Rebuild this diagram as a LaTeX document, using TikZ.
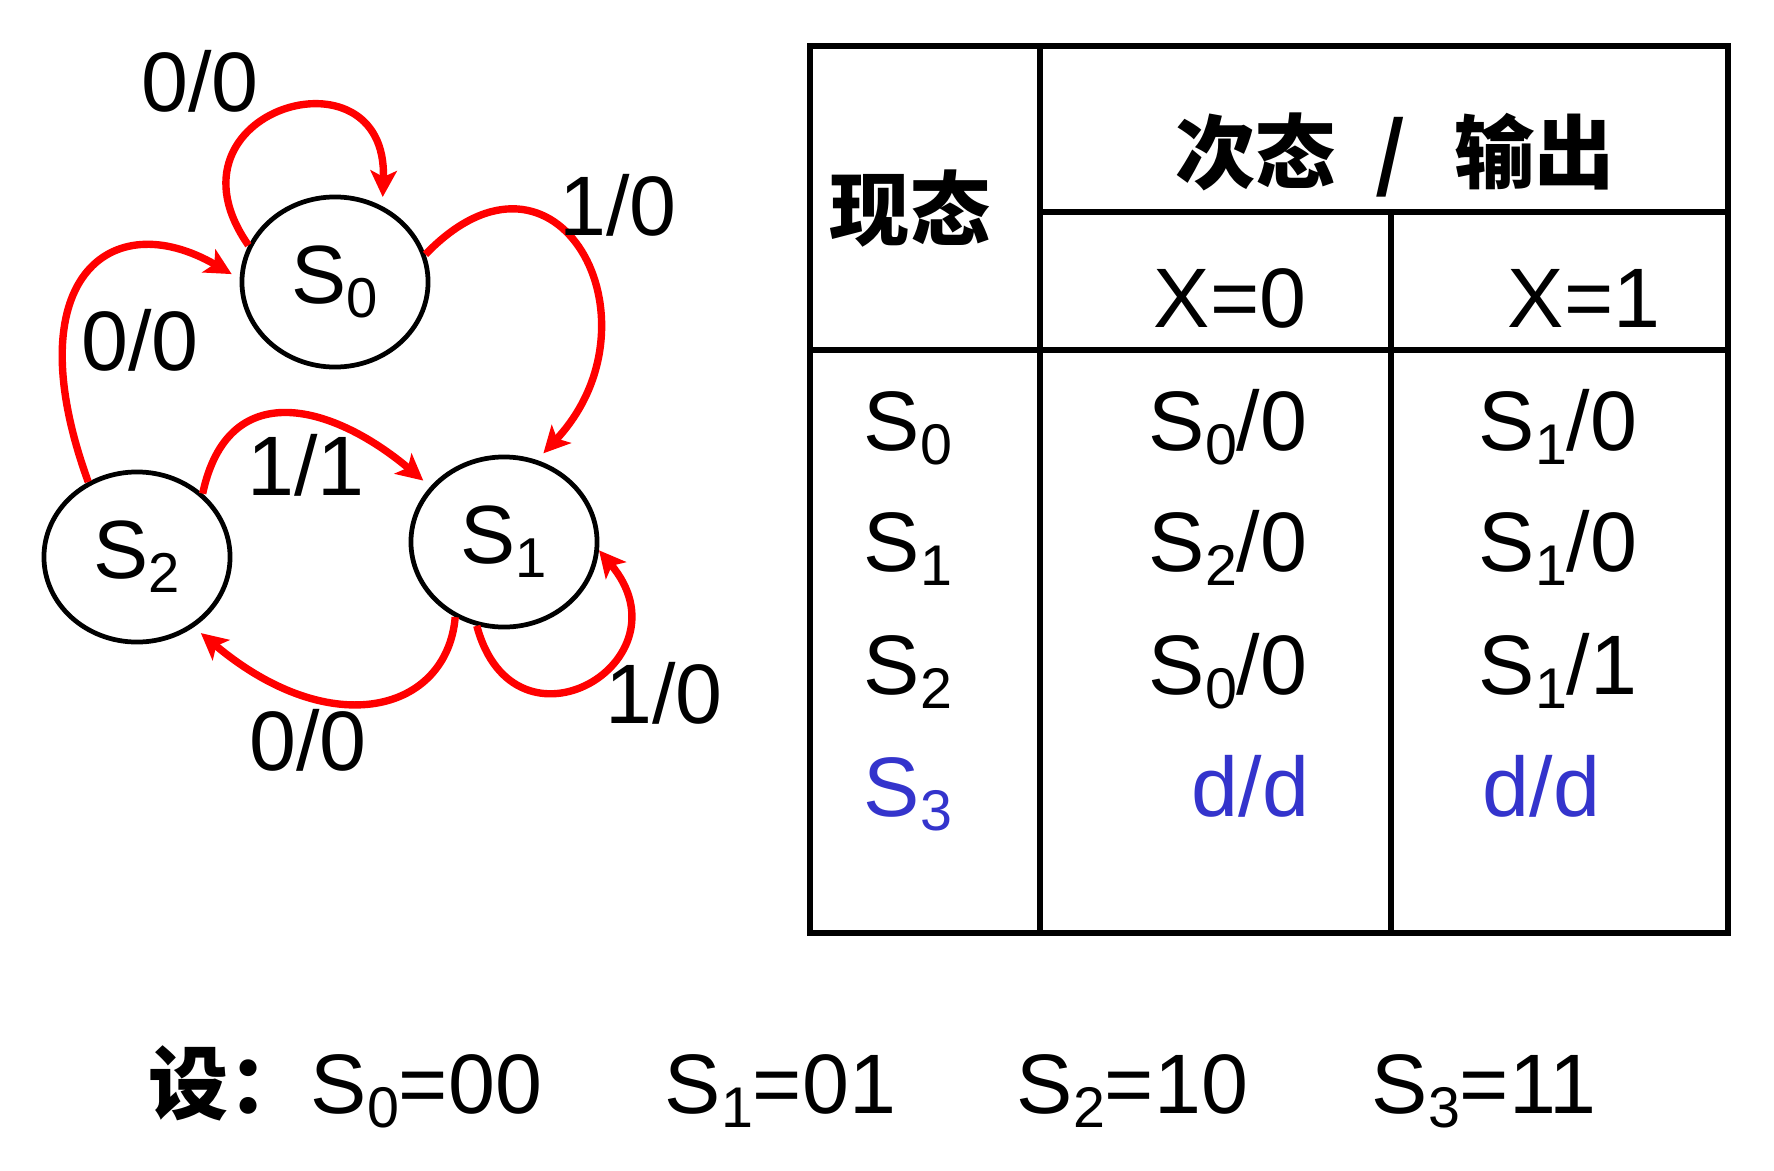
\documentclass[tikz,border=0pt]{standalone}
\usepackage{fontspec}
\setmainfont{Liberation Sans}
\newfontfamily\cjk{Noto Sans CJK SC}
\usepackage{graphicx}
\usepackage{tikz}
\usetikzlibrary{arrows.meta,shapes.geometric}
\definecolor{arcred}{HTML}{FF0000}
\definecolor{dcblue}{HTML}{3434CC}
\newcommand\sdig[1]{\raisebox{-0.17em}{\scalebox{0.68}{#1}}}
\tikzset{
  stnode/.style={ellipse, draw, line width=1.35pt, minimum width=1.86cm,
    minimum height=1.70cm, inner sep=0pt, font=\fontsize{23.5pt}{23.5pt}\selectfont},
  trans/.style={arcred, line width=2.1pt,
    -{Stealth[length=7.5pt,width=7.5pt,inset=1.8pt]}, shorten >=2.6pt},
  lbl/.style={anchor=base, inner sep=0pt, font=\fontsize{24pt}{24pt}\selectfont},
  hdr/.style={inner sep=0pt, font=\cjk\bfseries\fontsize{22.8pt}{22.8pt}\selectfont},
  grid/.style={line width=1.7pt}
}

\begin{document}
\begin{tikzpicture}[x=0.01cm, y=0.01cm]
  \useasboundingbox (0,0) rectangle (1774,-1170);

  % States
  \node[stnode] (S0) at (335,-282) {S\sdig{0}};
  \node[stnode] (S1) at (504,-542) {S\sdig{1}};
  \node[stnode] (S2) at (137,-557) {S\sdig{2}};

  % Transitions
  \draw[trans] (S0.157) .. controls +(125:165) and +(88:165) .. (S0.58);
  \draw[trans] (S0.17) .. controls +(46:190) and +(47:190) .. (S1.68);
  \draw[trans] (S2.123) .. controls +(110:215) and +(150:150) .. (S0.178);
  \draw[trans] (S2.44) .. controls +(78:120) and +(140:130) .. (S1.143);
  \draw[trans] (S1.237) .. controls +(265:95) and +(-40:180) .. (S2.309);
  \draw[trans, shorten >=0pt] (S1.252) .. controls +(285:145) and +(-50:145) .. (S1.-5);

  % Transition labels
  \node[lbl] (l00a) at (200,-112) {0/0};
  \node[lbl] (l00b) at (140,-370) {0/0};
  \node[lbl] (l10a) at (618,-235) {1/0};
  \node[lbl] (l11)  at (306,-495) {1/1};
  \node[lbl] (l00c) at (308,-770) {0/0};
  \node[lbl] (l10b) at (664,-723) {1/0};

  % Table frame
  \draw[grid] (810,-46) rectangle (1728,-933);
  \draw[grid] (1040,-46) -- (1040,-933);
  \draw[grid] (1040,-212) -- (1728,-212);
  \draw[grid] (810,-350) -- (1728,-350);
  \draw[grid] (1391,-212) -- (1391,-933);

  % Table head
  \node[hdr] (hcur) at (910,-209) {现态};
  \node[hdr] (hnext) at (1395,-155) {次态\hspace{0.5em}/\hspace{0.6em}输出};
  \node[lbl] (hx0) at (1230,-327) {X=0};
  \node[lbl] (hx1) at (1584,-327) {X=1};

  % Table rows
  \node[lbl, anchor=base west] (c0) at (863,-450) {S\sdig{0}};
  \node[lbl, anchor=base west] (c1) at (863,-571) {S\sdig{1}};
  \node[lbl, anchor=base west] (c2) at (863,-694) {S\sdig{2}};
  \node[lbl, anchor=base west, dcblue] (c3) at (863,-816) {S\sdig{3}};
  \node[lbl, anchor=base east] (a0) at (1308,-450) {S\sdig{0}/0};
  \node[lbl, anchor=base east] (a1) at (1308,-571) {S\sdig{2}/0};
  \node[lbl, anchor=base east] (a2) at (1308,-694) {S\sdig{0}/0};
  \node[lbl, anchor=base east, dcblue] (a3) at (1310,-816) {d/d};
  \node[lbl, anchor=base west] (b0) at (1478,-450) {S\sdig{1}/0};
  \node[lbl, anchor=base west] (b1) at (1478,-571) {S\sdig{1}/0};
  \node[lbl, anchor=base west] (b2) at (1478,-694) {S\sdig{1}/1};
  \node[lbl, anchor=base west, dcblue] (b3) at (1482,-816) {d/d};

  % State assignment
  \node[hdr, anchor=base west] (set) at (148,-1113) {设：};
  \node[lbl, anchor=base west] (e0) at (310,-1113) {S\sdig{0}=00};
  \node[lbl, anchor=base west] (e1) at (664,-1113) {S\sdig{1}=01};
  \node[lbl, anchor=base west] (e2) at (1016,-1113) {S\sdig{2}=10};
  \node[lbl, anchor=base west] (e3) at (1371,-1113) {S\sdig{3}=11};
\end{tikzpicture}
\end{document}
